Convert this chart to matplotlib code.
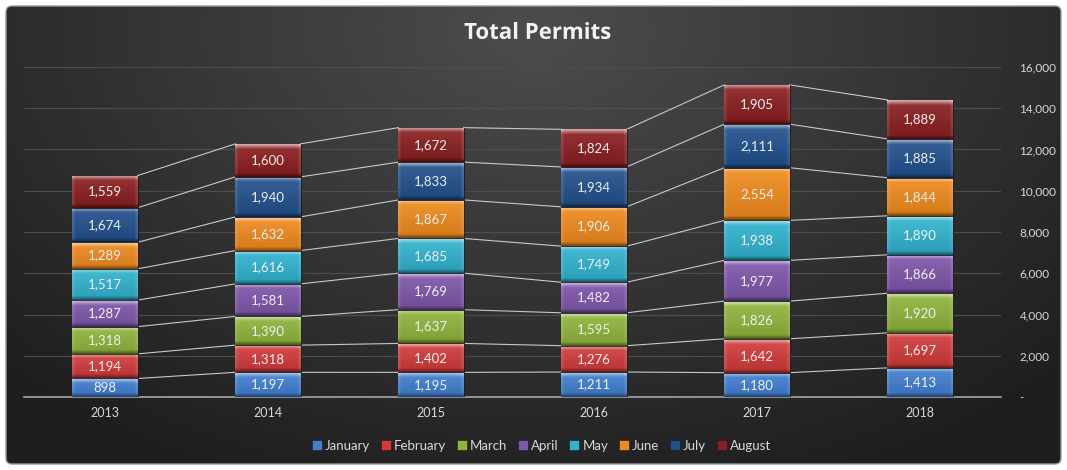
import numpy as np
import matplotlib.pyplot as plt
from matplotlib.patches import FancyBboxPatch
from matplotlib.lines import Line2D
from matplotlib.colors import to_rgb
import matplotlib.patheffects as pe

# Data
years = ['2013', '2014', '2015', '2016', '2017', '2018']
months = ['January', 'February', 'March', 'April', 'May', 'June', 'July', 'August']
january = [898, 1197, 1195, 1211, 1180, 1413]
february = [1194, 1318, 1402, 1276, 1642, 1697]
march = [1318, 1390, 1637, 1595, 1826, 1920]
april = [1287, 1581, 1769, 1482, 1977, 1866]
may = [1517, 1616, 1685, 1749, 1938, 1890]
june = [1289, 1632, 1867, 1906, 2554, 1844]
july = [1674, 1940, 1833, 1934, 2111, 1885]
august = [1559, 1600, 1672, 1824, 1905, 1889]
yticks = [0, 2000, 4000, 6000, 8000, 10000, 12000, 14000, 16000]

series = [january, february, march, april, may, june, july, august]
colors = ['#3f7fd0', '#d23a3a', '#8fb43a', '#7e56ab', '#2fb3cf', '#f08a1c', '#204f8c', '#8a1d1f']

plt.rcParams['font.family'] = ['Lato', 'DejaVu Sans']

W, H = 1067, 470
fig = plt.figure(figsize=(W / 100, H / 100), dpi=100)
fig.patch.set_facecolor('white')

# dark radial background with rounded frame
bg = fig.add_axes([0, 0, 1, 1], zorder=0)
bg.set_axis_off()
bg.set_xlim(0, W)
bg.set_ylim(H, 0)
yy, xx = np.mgrid[0:H, 0:W]
r = np.sqrt(((xx - 533) / 650) ** 2 + ((yy - 30) / 430) ** 2)
shade = np.clip(0.30 - 0.16 * r, 0.12, 0.30)
img = bg.imshow(np.dstack([shade] * 3), extent=(0, W, H, 0), aspect='auto', zorder=0)
frame = FancyBboxPatch((6, 6), W - 12, H - 12, boxstyle='round,pad=0,rounding_size=6',
                       transform=bg.transData, fc='none', ec='#9a9a9a', lw=1, zorder=1)
bg.add_patch(frame)
img.set_clip_path(frame)

ax = fig.add_axes([23.5 / W, 73 / H, 978 / W, 330 / H], zorder=1)
ax.patch.set_alpha(0)
ymax = 16000
px_per_unit = 330 / ymax
bw = 0.4
x = np.arange(len(years))


def bevel(patch, col):
    x0, y0 = patch.get_x(), patch.get_y()
    w, h = patch.get_width(), patch.get_height()
    c = np.array(to_rgb(col))
    hpx = h * px_per_unit
    wpx = 66
    ny, nx = 80, 40
    ty = np.linspace(0, 1, ny)[:, None] * hpx
    tx = np.linspace(0, 1, nx)[None, :] * wpx
    top = np.clip((5 - (hpx - ty)) / 5, 0, 1)
    bot = np.clip((4 - ty) / 4, 0, 1)
    side = np.clip((3 - np.minimum(tx, wpx - tx)) / 3, 0, 1)
    light = 0.55 * top + 0.12 * side * (1 - bot) + 0.10 * (ty / hpx)
    dark = 0.40 * bot + 0.12 * (1 - ty / hpx)
    rgb = c[None, None, :] + (1 - c[None, None, :]) * light[..., None] - c[None, None, :] * dark[..., None]
    rgb = np.clip(rgb, 0, 1)
    im = ax.imshow(rgb, extent=(x0, x0 + w, y0, y0 + h), origin='lower', aspect='auto', zorder=3)
    im.set_clip_path(patch)


bottom = np.zeros(len(years))
for name, vals, col in zip(months, series, colors):
    vals = np.array(vals)
    bars = ax.bar(x, vals, width=bw, bottom=bottom, color=col, edgecolor='#1a1a1a',
                  lw=0.6, zorder=3, label=name)
    for b in bars:
        bevel(b, col)
    for xi, v, b0 in zip(x, vals, bottom):
        ax.text(xi, b0 + v / 2, f'{v:,}', ha='center', va='center', fontsize=9.5,
                color='#eeeeee', zorder=5)
    bottom = bottom + vals
    # series lines between bars
    for i in range(len(years) - 1):
        ax.plot([x[i] + bw / 2, x[i + 1] - bw / 2], [bottom[i], bottom[i + 1]],
                color='#c8c8c8', lw=0.8, zorder=2)

ax.set_xlim(-0.5, len(years) - 0.5)
ax.set_ylim(0, ymax)
ax.set_xticks(x)
ax.set_xticklabels(years)
ax.set_yticks(yticks)
ax.set_yticklabels(['-' if v == 0 else f'{v:,}' for v in yticks])
ax.yaxis.tick_right()
ax.tick_params(axis='both', length=0, colors='#d9d9d9', labelsize=9)
ax.tick_params(axis='y', pad=13, labelsize=8.5)
ax.tick_params(axis='x', pad=7)
for lab in ax.get_yticklabels():
    lab.set_ha('left')
ax.yaxis.grid(True, color='#4e4e4e', lw=0.8)
ax.set_axisbelow(True)
for s in ['top', 'left', 'right']:
    ax.spines[s].set_visible(False)
ax.spines['bottom'].set_color('#a6a6a6')
ax.spines['bottom'].set_linewidth(1.2)

fig.text(0.504, 0.929, 'Total Permits', fontsize=16, fontweight='bold', color='#f2f2f2',
         ha='center', va='center', family=['Open Sans', 'DejaVu Sans'],
         path_effects=[pe.SimplePatchShadow(offset=(1, -1.5), alpha=0.7), pe.Normal()])

handles = [Line2D([], [], marker='s', ls='', markersize=7, markerfacecolor=c,
                  markeredgecolor='#1a1a1a', markeredgewidth=0.4) for c in colors]
leg = fig.legend(handles, months, loc='center', bbox_to_anchor=(0.508, 0.051), ncol=8,
                 frameon=False, fontsize=9.5, handlelength=0.6, handletextpad=0.3,
                 columnspacing=0.9)
for t in leg.get_texts():
    t.set_color('#d9d9d9')

fig.savefig('out.png', dpi=100, facecolor=fig.get_facecolor())
